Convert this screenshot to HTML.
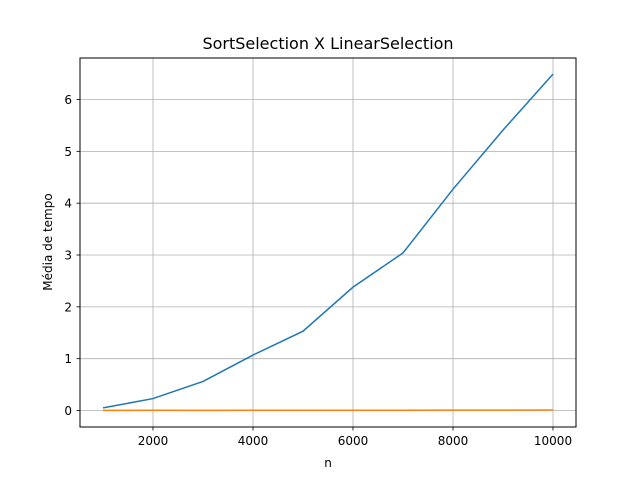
<!DOCTYPE html>
<html><head><meta charset="utf-8"><style>
body{margin:0;background:#fff;}
text{font-family:"DejaVu Sans","Liberation Sans",sans-serif;}
</style></head><body>
<svg id="chart" width="640" height="480" xmlns="http://www.w3.org/2000/svg">
<rect width="640" height="480" fill="#fff"/>
<text x="328" y="49" font-size="16" text-anchor="middle">SortSelection X LinearSelection</text>
<g id="grid"></g>
<g id="series"></g>
<rect x="80" y="58" width="496" height="369" fill="none" stroke="#000" stroke-width="1"/>
<g id="ticks"></g>
<text x="328" y="467" font-size="12" text-anchor="middle">n</text>
<text x="0" y="0" font-size="12" text-anchor="middle" transform="translate(52,242) rotate(-90)">Média de tempo</text>
</svg>
<script>
const nValues=[1000,2000,3000,4000,5000,6000,7000,8000,9000,10000];
const sortSel=[0.05,0.23,0.56,1.07,1.53,2.38,3.04,4.27,5.41,6.49];
const linSel=[0.002,0.004,0.003,0.004,0.005,0.006,0.006,0.007,0.008,0.009];
const xTicks=[2000,4000,6000,8000,10000];
const yTicks=[0,1,2,3,4,5,6];
const NS="http://www.w3.org/2000/svg";
function x(v){return 53+v*0.05;}
function y(v){return 410.5-v*51.83;}
const grid=document.getElementById('grid'),ticks=document.getElementById('ticks'),ser=document.getElementById('series');
function mk(tag,attrs,parent){const e=document.createElementNS(NS,tag);for(const k in attrs)e.setAttribute(k,attrs[k]);parent.appendChild(e);return e;}
xTicks.forEach(t=>{
 const g=mk('line',{x1:x(t),x2:x(t),y1:58,y2:427,stroke:'#b0b0b0','stroke-width':0.8},grid);
 
 
 const tk=mk('line',{x1:x(t),x2:x(t),y1:427,y2:430.5,stroke:'#000','stroke-width':0.8},ticks);
 
 
 const l=mk('text',{x:x(t),y:445,'font-size':12,'text-anchor':'middle'},ticks);
 l.textContent=t;
 
 
});
yTicks.forEach(t=>{
 const g=mk('line',{x1:80,x2:576,y1:y(t),y2:y(t),stroke:'#b0b0b0','stroke-width':0.8},grid);
 
 
 const tk=mk('line',{x1:76.5,x2:80,y1:y(t),y2:y(t),stroke:'#000','stroke-width':0.8},ticks);
 
 
 const l=mk('text',{x:72,y:y(t)+4.5,'font-size':12,'text-anchor':'end'},ticks);
 l.textContent=t;
 
 
});
function line(vals,color,name){
 const p=mk('polyline',{points:vals.map((v,i)=>x(nValues[i])+','+y(v)).join(' '),fill:'none',stroke:color,'stroke-width':1.5},ser);
 
 
}
line(sortSel,'#1f77b4','sort-selection-line');
line(linSel,'#ff7f0e','linear-selection-line');
</script>
</body></html>
